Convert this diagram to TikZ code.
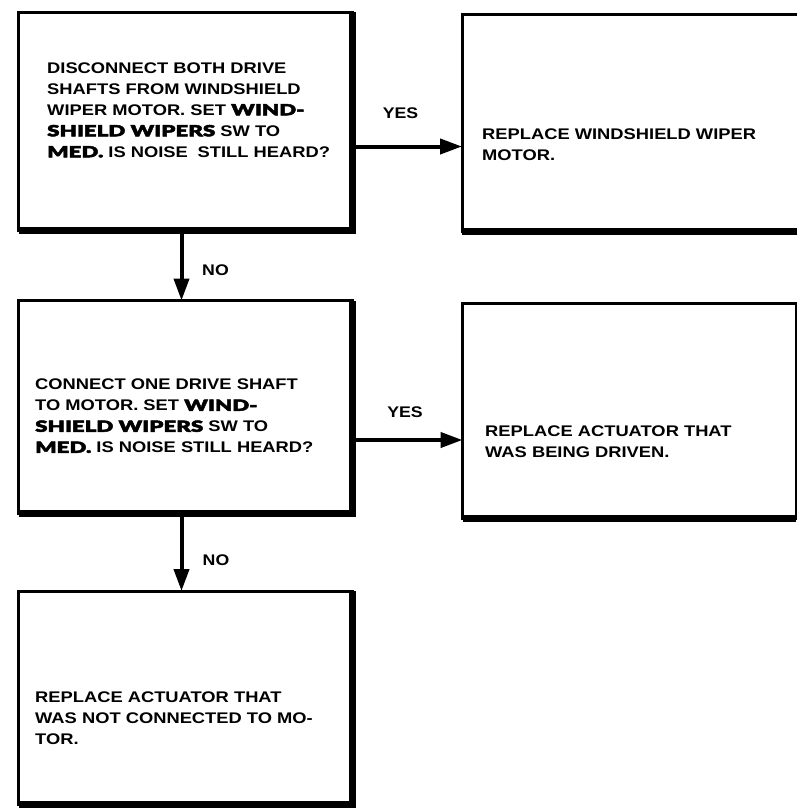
\documentclass[tikz,border=0pt]{standalone}
\usepackage{fontspec}
\setmainfont{Liberation Sans Bold}[FakeStretch=1.19]
\newfontfamily\heavy{Lato Black}[FakeStretch=1.45,FakeBold=3]
\newfontfamily\labfont{Liberation Sans Bold}[FakeStretch=1.15]
\usetikzlibrary{arrows.meta}
\begin{document}
\begin{tikzpicture}[x=1pt,y=-1pt,
  box/.style={draw, line width=3pt, outer sep=0pt, inner sep=0pt, anchor=north west},
  heavyedge/.style={line width=7pt, line join=miter},
  arr/.style={line width=4pt, -{Triangle[length=22pt,width=15pt]}},
  txt/.style={anchor=west, align=left, inner sep=0pt, font=\fontsize{15.4}{21}\selectfont},
  lab/.style={inner sep=0pt, font=\labfont\fontsize{15.4}{18}\selectfont}]
\useasboundingbox (0,0) rectangle (797,808);
\clip (0,0) rectangle (797,808);
% boxes
\node[box, minimum width=334pt, minimum height=218pt] (b1) at (18.5,12.5) {};
\node[box, minimum width=350pt, minimum height=216.5pt] (b2) at (462,15) {};
\node[box, minimum width=334pt, minimum height=213pt] (b3) at (18.5,300.5) {};
\node[box, minimum width=333.5pt, minimum height=215pt] (b4) at (462.5,303.5) {};
\node[box, minimum width=334pt, minimum height=213.5pt] (b5) at (18.5,591) {};
% heavy shadow edges
\draw[heavyedge] (b1.south west) -- (b1.south east) -- (b1.north east);
\draw[heavyedge] (b2.south west) -- (b2.south east);
\draw[heavyedge] (b3.south west) -- (b3.south east) -- (b3.north east);
\draw[heavyedge] (b4.south west) -- (b4.south east);
\draw[heavyedge] (b5.south west) -- (b5.south east) -- (b5.north east);
% texts
\node[txt] (t1) at (47,110) {DISCONNECT BOTH DRIVE\\
SHAFTS FROM WINDSHIELD\\
WIPER MOTOR. SET {\heavy WIND-}\\
{\heavy SHIELD WIPERS} SW TO\\
{\heavy MED.} IS NOISE\hspace{0.3em} STILL HEARD?};
\node[txt] (t2) at (482,145) {REPLACE WINDSHIELD WIPER\\ MOTOR.};
\node[txt] (t3) at (35,416) {CONNECT ONE DRIVE SHAFT\\
TO MOTOR. SET {\heavy WIND-}\\
{\heavy SHIELD WIPERS} SW TO\\
{\heavy MED.} IS NOISE STILL HEARD?};
\node[txt] (t4) at (485,442) {REPLACE ACTUATOR THAT\\ WAS BEING DRIVEN.};
\node[txt] (t5) at (35,718) {REPLACE ACTUATOR THAT\\ WAS NOT CONNECTED TO MO-\\ TOR.};
% connectors
\coordinate (y1) at ([yshift=-25pt]b1.east);
\coordinate (y2) at ([yshift=-33pt]b3.east);
\draw[arr] (y1) -- (y1 -| b2.west);
\draw[arr] (y2) -- (y2 -| b4.west);
\draw[arr] ([xshift=-4pt]b1.south) -- ([xshift=-4pt]b3.north);
\draw[arr] ([xshift=-4pt]b3.south) -- ([xshift=-4pt]b5.north);
% labels
\node[lab] (yes1) at (400.5,113) {YES};
\node[lab] (yes2) at (405,412) {YES};
\node[lab] (no1) at (215.5,270) {NO};
\node[lab] (no2) at (216,560) {NO};
\end{tikzpicture}
\end{document}
